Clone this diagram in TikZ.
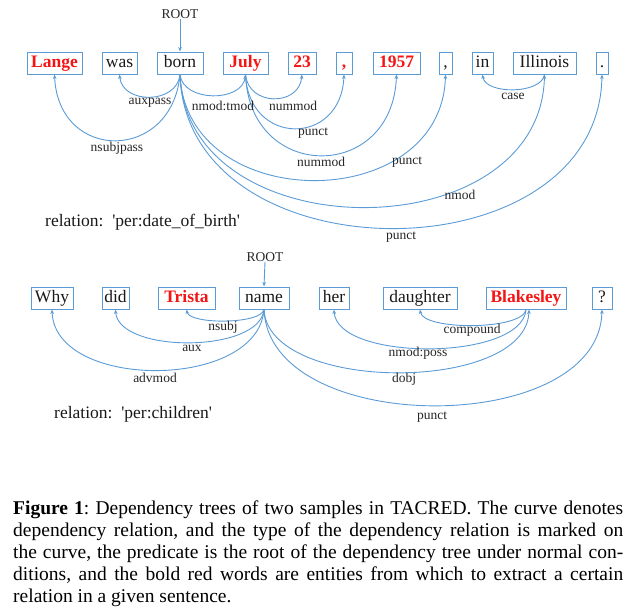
\documentclass[tikz,border=0pt]{standalone}
\usepackage{fontspec}
\setmainfont{Liberation Serif}
\usetikzlibrary{arrows.meta}
\definecolor{depblue}{RGB}{91,155,213}
\definecolor{entred}{RGB}{245,20,20}
\begin{document}
\begin{tikzpicture}[x=1pt,y=-1pt,
  word/.style={draw=depblue, line width=1pt, minimum height=22pt, inner sep=1pt,
    text height=11.5pt, text depth=3.5pt, font=\fontsize{17.5}{20}\selectfont, text=black!90},
  ent/.style={word, text=entred, font=\fontsize{17.5}{20}\selectfont\bfseries},
  lbl/.style={font=\fontsize{13.5}{15}\selectfont, inner sep=0pt, text=black!85},
  reltext/.style={font=\fontsize{17.5}{20}\selectfont, inner sep=0pt, anchor=west, text=black!90},
  arc/.style={draw=depblue, line width=0.9pt, -{Stealth[length=4.5pt,width=3.6pt]}},
]
\useasboundingbox (0,0) rectangle (635,614);

% ---------- sentence 1 ----------
\node[ent,  minimum width=55pt] (Lange) at (54.5,63) {Lange};
\node[word, minimum width=35pt] (was) at (119.5,63) {was};
\node[word, minimum width=46pt] (born) at (180,63) {born};
\node[ent,  minimum width=45pt] (July) at (245.5,63) {July};
\node[ent,  minimum width=28pt] (n23) at (302,63) {23};
\node[ent,  minimum width=16pt] (comA) at (344,63) {,};
\node[ent,  minimum width=47pt] (y1957) at (396.5,63) {1957};
\node[word, minimum width=13pt] (comB) at (445.5,63) {,};
\node[word, minimum width=21pt] (in) at (482.5,63) {in};
\node[word, minimum width=63pt] (Illinois) at (544.5,63) {Illinois};
\node[word, minimum width=12pt] (dotA) at (602,63) {.};

\node[lbl] (rootA) at (180,14) {ROOT};
\draw[arc] (rootA.south) -- (born.north);

\draw[arc] (born.south) .. controls +(-3,30) and +(3,30) .. (was.south);
\draw[arc] (born.south) .. controls +(-8,88) and +(4,88) .. (Lange.south);
\draw[arc] (born.south) .. controls +(3,28) and +(-3,28) .. (July.south);
\draw[arc] (July.south) .. controls +(3,32) and +(-3,32) .. (n23.south);
\draw[arc] (July.south) .. controls +(3,72) and +(-3,72) .. (comA.south);
\draw[arc] (July.south) .. controls +(4,108) and +(-4,108) .. (y1957.south);
\draw[arc] (born.south) .. controls +(6,141) and +(-4,141) .. (comB.south);
\draw[arc] (born.south) .. controls +(6,177) and +(-4,177) .. (Illinois.south);
\draw[arc] (born.south) .. controls +(6,205) and +(-4,205) .. (dotA.south);
\draw[arc] (Illinois.south) .. controls +(-3,20) and +(3,20) .. (in.south);

\node[lbl] (l1) at (150,103) {auxpass};
\node[lbl] (l2) at (117,148) {nsubjpass};
\node[lbl] (l3) at (223,106) {nmod:tmod};
\node[lbl] (l4) at (293,106) {nummod};
\node[lbl] (l5) at (313,133) {punct};
\node[lbl] (l6) at (321,162) {nummod};
\node[lbl] (l7) at (407,162) {punct};
\node[lbl] (l8) at (460,195) {nmod};
\node[lbl] (l9) at (401,237) {punct};
\node[lbl] (l10) at (513,96) {case};

\node[reltext] (relA) at (45,222) {relation:\ \ \textquotesingle per:date\_of\_birth\textquotesingle};

% ---------- sentence 2 ----------
\node[word, minimum width=42pt] (Why) at (52,298) {Why};
\node[word, minimum width=27pt] (did) at (115.5,298) {did};
\node[ent,  minimum width=57pt] (Trista) at (186.5,298) {Trista};
\node[word, minimum width=50pt] (name) at (264,298) {name};
\node[word, minimum width=30pt] (her) at (334,298) {her};
\node[word, minimum width=74pt] (daughter) at (420,298) {daughter};
\node[ent,  minimum width=80pt] (Blakesley) at (526,298) {Blakesley};
\node[word, minimum width=20pt] (qm) at (602,298) {?};

\node[lbl] (rootB) at (265,257) {ROOT};
\draw[arc] (rootB.south) -- (name.north);

\draw[arc] (name.south) .. controls +(-3,15) and +(3,15) .. (Trista.south);
\draw[arc] (name.south) .. controls +(-4,44) and +(3,44) .. (did.south);
\draw[arc] (name.south) .. controls +(-6,81) and +(3,81) .. (Why.south);
\draw[arc] (Blakesley.south) .. controls +(-3,21) and +(3,21) .. (daughter.south);
\draw[arc] (Blakesley.south) .. controls +(-4,52) and +(3,52) .. (her.south);
\draw[arc] (name.south) .. controls +(4,84) and +(-3,84) .. ([xshift=3pt]Blakesley.south);
\draw[arc] (name.south) .. controls +(5,128) and +(-3,128) .. (qm.south);

\node[lbl] (m1) at (223,327) {nsubj};
\node[lbl] (m2) at (192,348) {aux};
\node[lbl] (m3) at (155,378) {advmod};
\node[lbl] (m4) at (472,330) {compound};
\node[lbl] (m5) at (418,353) {nmod:poss};
\node[lbl] (m6) at (404,379) {dobj};
\node[lbl] (m7) at (432,417) {punct};

\node[reltext] (relB) at (54,414) {relation:\ \ \textquotesingle per:children\textquotesingle};

% ---------- caption ----------
\node[anchor=north west, inner sep=0pt, text width=610pt, align=justify,
      font=\fontsize{19.5}{21.8}\selectfont] (cap) at (13,501)
{\frenchspacing\textbf{Figure 1}: Dependency trees of two samples in TACRED. The curve denotes\linebreak
dependency relation, and the type of the dependency relation is marked on\linebreak
the curve, the predicate is the root of the dependency tree under normal con-\linebreak
ditions, and the bold red words are entities from which to extract a certain\linebreak
relation in a given sentence.};
\end{tikzpicture}
\end{document}
